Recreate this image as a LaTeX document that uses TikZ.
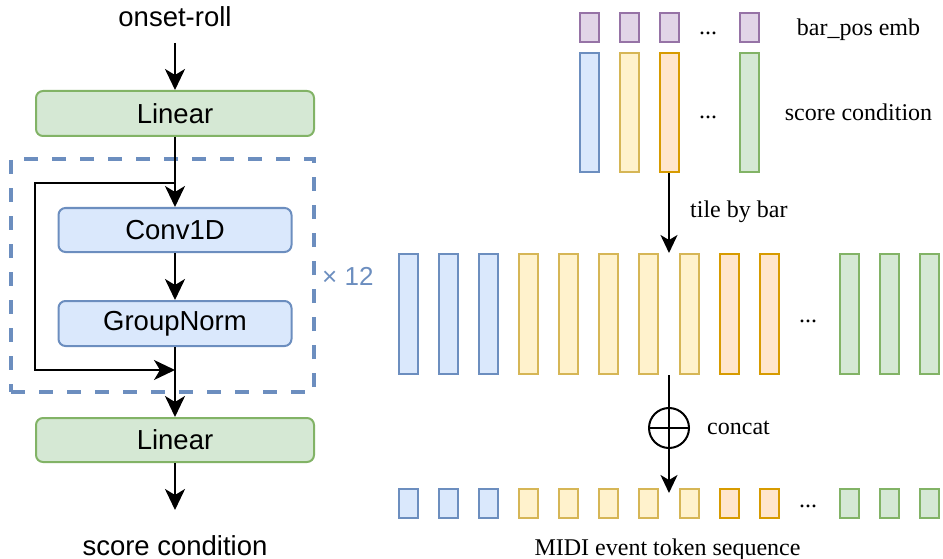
\documentclass[tikz,border=0pt]{standalone}
\usepackage{fontspec}
\setmainfont{Liberation Serif}
\newfontfamily\labelsans{Liberation Sans}
\usetikzlibrary{arrows.meta}

\definecolor{gfill}{HTML}{D5E8D4}\definecolor{gline}{HTML}{82B366}
\definecolor{bfill}{HTML}{DAE8FC}\definecolor{bline}{HTML}{6C8EBF}
\definecolor{yfill}{HTML}{FFF2CC}\definecolor{yline}{HTML}{D6B656}
\definecolor{ofill}{HTML}{FFE6CC}\definecolor{oline}{HTML}{D79B00}
\definecolor{pfill}{HTML}{E1D5E7}\definecolor{pline}{HTML}{9673A6}

\begin{document}
\begin{tikzpicture}[x=1pt,y=-1pt,
  sanstext/.style={font=\labelsans\fontsize{27.5}{33}\selectfont},
  serif/.style={font=\fontsize{24}{29}\selectfont},
  layer/.style={draw, rounded corners=7pt, line width=2pt, inner sep=0pt, sanstext},
  greenlayer/.style={layer, fill=gfill, draw=gline, minimum width=278pt},
  bluelayer/.style={layer, fill=bfill, draw=bline, minimum width=233pt},
  token/.style={draw, line width=2pt, inner sep=0pt, minimum width=19pt},
  cblue/.style={fill=bfill, draw=bline},
  cyellow/.style={fill=yfill, draw=yline},
  corange/.style={fill=ofill, draw=oline},
  cgreen/.style={fill=gfill, draw=gline},
  cpurple/.style={fill=pfill, draw=pline},
  mainarrow/.style={line width=2.6pt, -{Stealth[length=21pt,width=20pt,inset=6pt]}},
  skiparrow/.style={line width=1.9pt, -{Stealth[length=21pt,width=20pt,inset=6pt]}},
  thinarrow/.style={line width=1.8pt, -{Stealth[length=18pt,width=17pt,inset=5pt]}},
]
\useasboundingbox (0,0) rectangle (943,559);

% ---------- score-condition encoder ----------
\node[sanstext, anchor=base, inner sep=0pt] (in) at (175,27) {onset-roll};
\coordinate (instart) at (175,43);
\node[greenlayer, minimum height=45pt] (lin1) at (175,113.5) {Linear};
\node[draw=bline, dashed, dash pattern=on 14pt off 14pt, line width=3.5pt,
      minimum width=303pt, minimum height=233pt, inner sep=0pt] (frame) at (162.5,275.5) {};
\node[font=\labelsans\fontsize{26}{30}\selectfont, text=bline, anchor=base west, inner sep=0pt]
      (rep) at (322,285) {× 12};
\node[bluelayer, minimum height=44pt] (conv) at (175,230) {Conv1D};
\node[bluelayer, minimum height=45pt] (gn) at (175,323.5) {GroupNorm};
\node[greenlayer, minimum height=44pt] (lin2) at (175,440) {Linear};
\node[sanstext, anchor=base, inner sep=0pt] (out) at (175,555) {score condition};
\coordinate (outtip) at (175,510);
\coordinate (split) at (175,183);
\coordinate (merge) at (175,370);

\draw[mainarrow] (instart) -- (lin1.north);
\draw[mainarrow] (lin1.south) -- (conv.north);
\draw[mainarrow] (conv.south) -- (gn.north);
\draw[mainarrow] (gn.south) -- (lin2.north);
\draw[mainarrow] (lin2.south) -- (outtip);
\draw[skiparrow] (split) -- ++(-140,0) |- (merge);

% ---------- bar-level conditions ----------
\foreach \i/\x in {1/589,2/629,3/669,4/749}
  \node[token, cpurple, minimum height=29pt] (p\i) at (\x,27.5) {};
\foreach \i/\x/\c in {1/589/cblue,2/629/cyellow,3/669/corange,4/749/cgreen}
  \node[token, \c, minimum height=119pt] (s\i) at (\x,112.5) {};
\node[serif, anchor=base, inner sep=0pt] (pdots) at (708,35) {...};
\node[serif, anchor=base, inner sep=0pt] (sdots) at (708,119) {...};
\node[serif, inner sep=0pt] (plabel) at (858.5,30) {bar\_pos emb};
\node[serif, inner sep=0pt] (slabel) at (858.5,112) {score condition};

% ---------- tiled sequence ----------
\foreach \k/\c in {0/cblue,1/cblue,2/cblue,3/cyellow,4/cyellow,5/cyellow,6/cyellow,
                   7/cyellow,8/corange,9/corange,11/cgreen,12/cgreen,13/cgreen}
  \node[token, \c, minimum height=120pt] (m\k) at ({408+40.15*\k},314) {};
\node[serif, anchor=base, inner sep=0pt] (mdots) at (808,322) {...};

\coordinate (tiletip) at (669,253);
\draw[thinarrow] (s3.south) -- (tiletip);
\node[serif, anchor=west, inner sep=0pt] (tilelabel) at (690,212) {tile by bar};

% ---------- token sequence ----------
\foreach \k/\c in {0/cblue,1/cblue,2/cblue,3/cyellow,4/cyellow,5/cyellow,6/cyellow,
                   7/cyellow,8/corange,9/corange,11/cgreen,12/cgreen,13/cgreen}
  \node[token, \c, minimum height=29pt] (t\k) at ({408+40.15*\k},503.5) {};
\node[serif, anchor=base, inner sep=0pt] (tdots) at (808,507) {...};

\coordinate (catstart) at (669,375);
\coordinate (cattip) at (669,493);
\node[draw, circle, line width=2pt, minimum size=40pt, inner sep=0pt] (plus) at (669,428) {};
\draw[line width=1.8pt] (plus.west) -- (plus.east);
\draw[thinarrow] (catstart) -- (cattip);
\node[serif, anchor=west, inner sep=0pt] (catlabel) at (707,428) {concat};
\node[serif, anchor=base, inner sep=0pt] (seqlabel) at (667.5,555) {MIDI event token sequence};
\end{tikzpicture}
\end{document}
